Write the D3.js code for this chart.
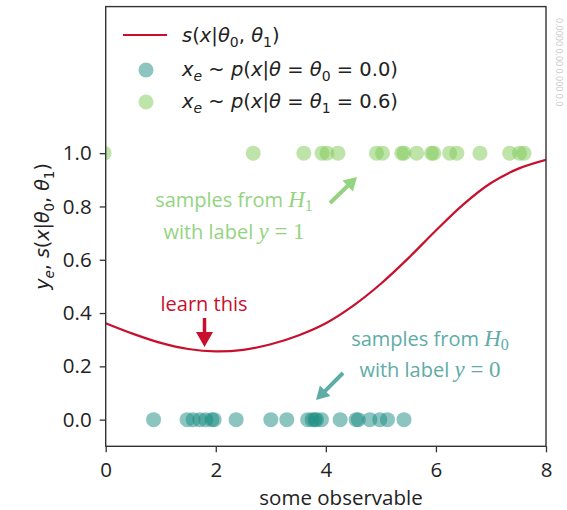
<!DOCTYPE html>
<html>
<head>
<meta charset="utf-8">
<script src="https://cdn.jsdelivr.net/npm/d3@7"></script>
<style>
  html, body { margin: 0; padding: 0; background: #fff; }
  svg { display: block; }
  text { font-family: "Open Sans", "Noto Sans", sans-serif; }
  .math { font-family: "DejaVu Sans", sans-serif; }
  .tex { font-family: "Liberation Serif", "DejaVu Serif", serif; }
</style>
</head>
<body>
<script>
// Decision function s(x | theta0, theta1), sampled along the observable
const curveX = [0, 0.5, 1, 1.5, 2, 2.5, 3, 3.5, 4, 4.5, 5, 5.5, 6, 6.5, 7, 7.5, 8];
const curveY = [0.362, 0.322, 0.288, 0.265, 0.256, 0.262, 0.283, 0.316, 0.362, 0.428, 0.51, 0.606, 0.71, 0.808, 0.888, 0.942, 0.975];

// Events drawn from H0 (label y = 0) and H1 (label y = 1)
const samplesH0 = [0.87, 1.48, 1.59, 1.71, 1.82, 1.93, 1.97, 2.37, 3.0, 3.29, 3.67, 3.75, 3.8, 3.83, 3.92, 4.26, 4.55, 4.59, 4.8, 4.98, 5.12, 5.42];
const samplesH1 = [-0.03, 2.68, 3.6, 3.93, 4.02, 4.22, 4.92, 5.03, 5.38, 5.42, 5.65, 5.92, 5.96, 6.25, 6.38, 6.8, 7.34, 7.52, 7.6];
const labelH0 = 0;
const labelH1 = 1;

const xTicks = [0, 2, 4, 6, 8];
const yTicks = [0.0, 0.2, 0.4, 0.6, 0.8, 1.0];

const W = 567, H = 510;
const plotL = 105.7, plotR = 546, plotT = 6.6, plotB = 446.3;

const red = "#c8102e";
const teal = "#198b81";
const green = "#7dc955";
const tealText = "#5eaca6";
const greenText = "#94d480";

const svg = d3.select("body").append("svg").attr("width", W).attr("height", H);

const x = d3.scaleLinear().domain([0, 8]).range([plotL, plotR]);
const y = d3.scaleLinear().domain([-0.1, 1.55]).range([plotB, plotT]);

svg.append("clipPath").attr("id", "plot-clip")
  .append("rect").attr("x", plotL).attr("y", plotT).attr("width", plotR - plotL).attr("height", plotB - plotT);

const plot = svg.append("g").attr("clip-path", "url(#plot-clip)");

// scatter of labelled samples
plot.append("g").selectAll("circle").data(samplesH0).join("circle")
  .attr("cx", d => x(d)).attr("cy", y(labelH0)).attr("r", 7.5)
  .attr("fill", teal).attr("fill-opacity", 0.5);
plot.append("g").selectAll("circle").data(samplesH1).join("circle")
  .attr("cx", d => x(d)).attr("cy", y(labelH1)).attr("r", 7.5)
  .attr("fill", green).attr("fill-opacity", 0.5);

// decision function
const line = d3.line().x(d => x(d[0])).y(d => y(d[1])).curve(d3.curveCatmullRom.alpha(0.5));
plot.append("path").datum(d3.zip(curveX, curveY))
  .attr("d", line).attr("fill", "none").attr("stroke", red).attr("stroke-width", 2.2);

// axes
const xAxis = svg.append("g").attr("transform", `translate(0,${plotB})`)
  .call(d3.axisBottom(x).tickValues(xTicks).tickFormat(d3.format("d")).tickSize(6).tickPadding(10));
const yAxis = svg.append("g").attr("transform", `translate(${plotL},0)`)
  .call(d3.axisLeft(y).tickValues(yTicks).tickFormat(d3.format(".1f")).tickSize(6).tickPadding(8));
[xAxis, yAxis].forEach(a => {
  a.select(".domain").remove();
  a.selectAll(".tick line").attr("stroke", "#333").attr("stroke-width", 1.3);
  a.selectAll(".tick text").attr("fill", "#222").style("font-size", "20.5px")
    .style("font-family", "'Open Sans', sans-serif");
});

// frame
svg.append("rect").attr("x", plotL).attr("y", plotT).attr("width", plotR - plotL).attr("height", plotB - plotT)
  .attr("fill", "none").attr("stroke", "#333").attr("stroke-width", 1.4);

// axis titles
svg.append("text").attr("x", 341).attr("y", 505).attr("text-anchor", "middle")
  .style("font-size", "20.5px").attr("fill", "#222").text("some observable");

// mixed italic / subscript math text
function mathText(sel, segs, subSize) {
  let lowered = false;
  segs.forEach(seg => {
    const ts = sel.append("tspan").text(seg.s);
    if (seg.it) ts.attr("font-style", "italic");
    if (seg.sub) { ts.attr("font-size", subSize); if (!lowered) { ts.attr("dy", 4.5); lowered = true; } }
    else if (lowered) { ts.attr("dy", -4.5); lowered = false; }
  });
  return sel;
}

const yl = svg.append("text").attr("class", "math")
  .attr("transform", `translate(49,${(plotT + plotB) / 2}) rotate(-90)`)
  .attr("text-anchor", "middle").style("font-size", "19px").attr("fill", "#222");
mathText(yl, [
  { s: "y", it: true }, { s: "e", it: true, sub: true }, { s: ", " }, { s: "s", it: true }, { s: "(" },
  { s: "x", it: true }, { s: "|" }, { s: "θ", it: true }, { s: "0", sub: true }, { s: ", " },
  { s: "θ", it: true }, { s: "1", sub: true }, { s: ")" }
], "13.5px");

// legend
const lg = svg.append("g");
lg.append("line").attr("x1", 123).attr("x2", 167).attr("y1", 35).attr("y2", 35)
  .attr("stroke", red).attr("stroke-width", 2.2);
lg.append("circle").attr("cx", 146).attr("cy", 70).attr("r", 7.5).attr("fill", teal).attr("fill-opacity", 0.5);
lg.append("circle").attr("cx", 146).attr("cy", 102).attr("r", 7.5).attr("fill", green).attr("fill-opacity", 0.5);

function legendText(yPos, segs) {
  const t = lg.append("text").attr("class", "math").attr("x", 182).attr("y", yPos)
    .style("font-size", "19.5px").attr("fill", "#222");
  mathText(t, segs, "14px");
}
legendText(42, [
  { s: "s", it: true }, { s: "(" }, { s: "x", it: true }, { s: "|" }, { s: "θ", it: true },
  { s: "0", sub: true }, { s: ", " }, { s: "θ", it: true }, { s: "1", sub: true }, { s: ")" }
]);
legendText(76, [
  { s: "x", it: true }, { s: "e", it: true, sub: true }, { s: " ~ " }, { s: "p", it: true }, { s: "(" },
  { s: "x", it: true }, { s: "|" }, { s: "θ", it: true }, { s: " = " }, { s: "θ", it: true },
  { s: "0", sub: true }, { s: " = 0.0)" }
]);
legendText(108, [
  { s: "x", it: true }, { s: "e", it: true, sub: true }, { s: " ~ " }, { s: "p", it: true }, { s: "(" },
  { s: "x", it: true }, { s: "|" }, { s: "θ", it: true }, { s: " = " }, { s: "θ", it: true },
  { s: "1", sub: true }, { s: " = 0.6)" }
]);

// annotations
function annot(cx, y1, y2, color, hSub, yVal) {
  const a = svg.append("text").attr("x", cx).attr("y", y1).attr("text-anchor", "middle")
    .style("font-size", "20px").attr("fill", color);
  a.append("tspan").text("samples from ");
  a.append("tspan").attr("class", "tex").attr("font-style", "italic").style("font-size", "23px").text("H");
  a.append("tspan").attr("class", "tex").style("font-size", "16px").attr("dy", 4).text(hSub);
  const b = svg.append("text").attr("x", cx).attr("y", y2).attr("text-anchor", "middle")
    .style("font-size", "20px").attr("fill", color);
  b.append("tspan").text("with label ");
  b.append("tspan").attr("class", "tex").attr("font-style", "italic").style("font-size", "23px").text("y");
  b.append("tspan").attr("class", "tex").style("font-size", "23px").text(" = " + yVal);
}
annot(234, 207, 239, greenText, "1", labelH1);
annot(430, 346, 377, tealText, "0", labelH0);

svg.append("text").attr("x", 204).attr("y", 311).attr("text-anchor", "middle")
  .style("font-size", "20px").attr("fill", red).text("learn this");

// block arrows: shaft plus triangular head
function arrow(x1, y1, x2, y2, color, shaft, headW, headL) {
  const dx = x2 - x1, dy = y2 - y1, len = Math.hypot(dx, dy);
  const ux = dx / len, uy = dy / len, nx = -uy, ny = ux;
  const bx = x2 - ux * headL, by = y2 - uy * headL;
  const pts = [
    [x1 + nx * shaft / 2, y1 + ny * shaft / 2],
    [bx + nx * shaft / 2, by + ny * shaft / 2],
    [bx + nx * headW / 2, by + ny * headW / 2],
    [x2, y2],
    [bx - nx * headW / 2, by - ny * headW / 2],
    [bx - nx * shaft / 2, by - ny * shaft / 2],
    [x1 - nx * shaft / 2, y1 - ny * shaft / 2]
  ];
  svg.append("path").attr("d", "M" + pts.map(p => p.join(",")).join("L") + "Z").attr("fill", color);
}
arrow(330, 203, 357, 177, greenText, 4, 15, 13);
arrow(343, 373, 316, 400, tealText, 4, 15, 13);
arrow(204.5, 318, 204.5, 347, red, 3.5, 17, 15);

// faint rotated text at the right margin
svg.append("text").attr("transform", "translate(556,18) rotate(90)")
  .style("font-size", "9px").attr("fill", "#c8c8c8").text("0.0000 0.00  0.000 0.0");
</script>
</body>
</html>
